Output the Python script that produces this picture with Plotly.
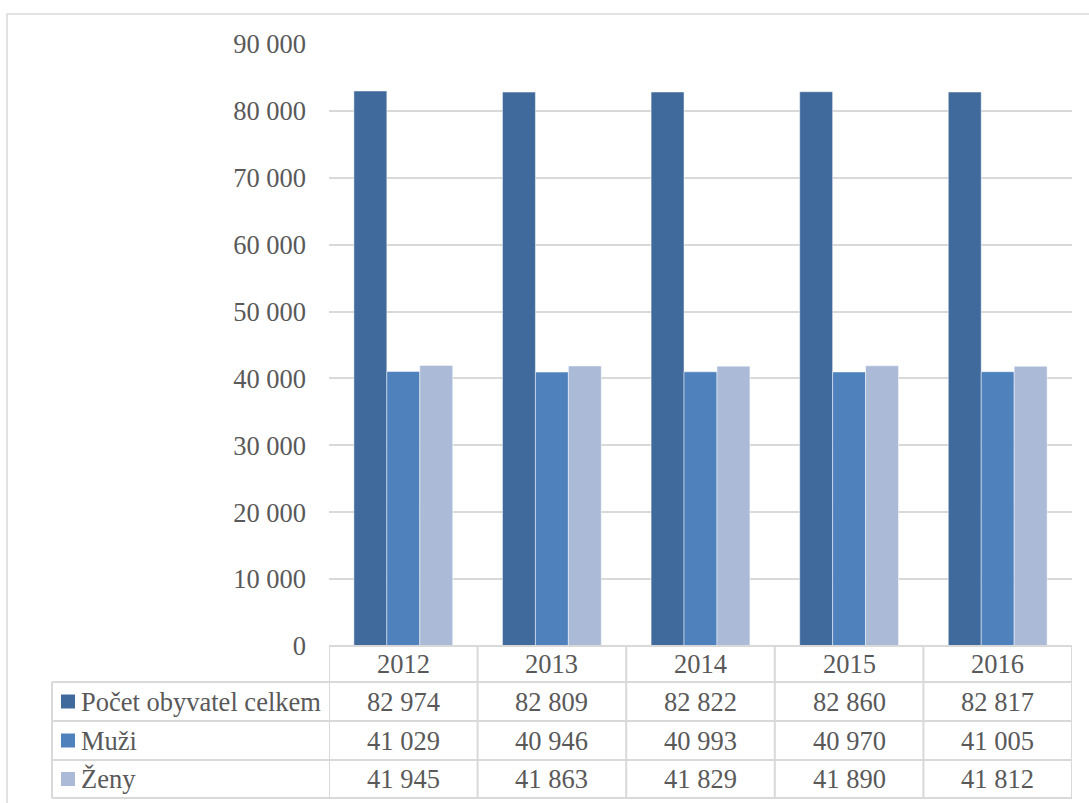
import plotly.graph_objects as go

years = ["2012", "2013", "2014", "2015", "2016"]
series_names = ["Počet obyvatel celkem", "Muži", "Ženy"]
celkem = [82974, 82809, 82822, 82860, 82817]
muzi = [41029, 40946, 40993, 40970, 41005]
zeny = [41945, 41863, 41829, 41890, 41812]
colors = ["#416A9C", "#4F81BD", "#AABAD7"]
y_ticks = [0, 10000, 20000, 30000, 40000, 50000, 60000, 70000, 80000, 90000]

W, H = 1089, 803
L, R, T, B = 329, 1072, 44, 646
FONT = "Liberation Serif"
FS = 26.5
TXT = "#595959"
GRID = "#D9D9D9"


def px(x):
    return (x - L) / (R - L)


def py(y):
    return (B - y) / (B - T)


def fmt(v):
    return f"{v:,}".replace(",", " ")


fig = go.Figure()
for name, vals, col in zip(series_names, [celkem, muzi, zeny], colors):
    fig.add_trace(go.Bar(x=years, y=vals, name=name,
                         marker=dict(color=col, line=dict(color="rgba(255,255,255,0.6)", width=0.8))))

shapes = []
annotations = []
# outer border
shapes.append(dict(type="rect", xref="paper", yref="paper", x0=px(7), x1=px(1100), y0=py(815), y1=py(14),
                   line=dict(color=GRID, width=1.5), layer="below"))

row_edges = [646, 682, 721, 760, 798]
row_centers = [(row_edges[i] + row_edges[i + 1]) / 2 for i in range(4)]
# horizontal table lines
shapes.append(dict(type="line", xref="paper", yref="paper", x0=0, x1=1, y0=py(646), y1=py(646),
                   line=dict(color=GRID, width=2)))
for ye in row_edges[1:]:
    shapes.append(dict(type="line", xref="paper", yref="paper", x0=px(52), x1=1, y0=py(ye), y1=py(ye),
                       line=dict(color=GRID, width=2)))
# vertical table lines
for i in range(len(years) + 1):
    shapes.append(dict(type="line", xref="x", yref="paper", x0=i - 0.5, x1=i - 0.5, y0=py(646), y1=py(798),
                       line=dict(color=GRID, width=2)))
shapes.append(dict(type="line", xref="paper", yref="paper", x0=px(52), x1=px(52), y0=py(682), y1=py(798),
                   line=dict(color=GRID, width=2)))

# header
for i, yr in enumerate(years):
    annotations.append(dict(x=i, xref="x", y=py(row_centers[0]), yref="paper", text=yr, showarrow=False,
                            xanchor="center", yanchor="middle", font=dict(family=FONT, size=FS, color=TXT)))
# rows
for r, (name, vals, col) in enumerate(zip(series_names, [celkem, muzi, zeny], colors)):
    yc = row_centers[r + 1]
    shapes.append(dict(type="rect", xref="paper", yref="paper", x0=px(61), x1=px(75), y0=py(yc + 7), y1=py(yc - 7),
                       fillcolor=col, line=dict(width=0)))
    annotations.append(dict(x=px(79), xref="paper", y=py(yc), yref="paper", text=name, showarrow=False,
                            xanchor="left", yanchor="middle", font=dict(family=FONT, size=FS, color=TXT)))
    for i, v in enumerate(vals):
        annotations.append(dict(x=i, xref="x", y=py(yc), yref="paper", text=fmt(v), showarrow=False,
                                xanchor="center", yanchor="middle", font=dict(family=FONT, size=FS, color=TXT)))

fig.update_layout(
    width=W, height=H,
    margin=dict(l=L, r=W - R, t=T, b=H - B),
    paper_bgcolor="white", plot_bgcolor="white",
    barmode="group", bargap=0.335, bargroupgap=0,
    showlegend=False,
    separators=", ",
    font=dict(family=FONT, size=FS, color=TXT),
    shapes=shapes, annotations=annotations,
    xaxis=dict(type="category", showticklabels=False, showgrid=False, zeroline=False, showline=False,
               range=[-0.5, 4.5]),
    yaxis=dict(range=[0, 90000], tickvals=y_ticks, tickformat=",d", showgrid=True, gridcolor=GRID, gridwidth=1.5,
               zeroline=False, showline=False, ticks="", ticklabelstandoff=22,
               tickfont=dict(family=FONT, size=FS, color=TXT)),
)

fig.write_html("out.html")
